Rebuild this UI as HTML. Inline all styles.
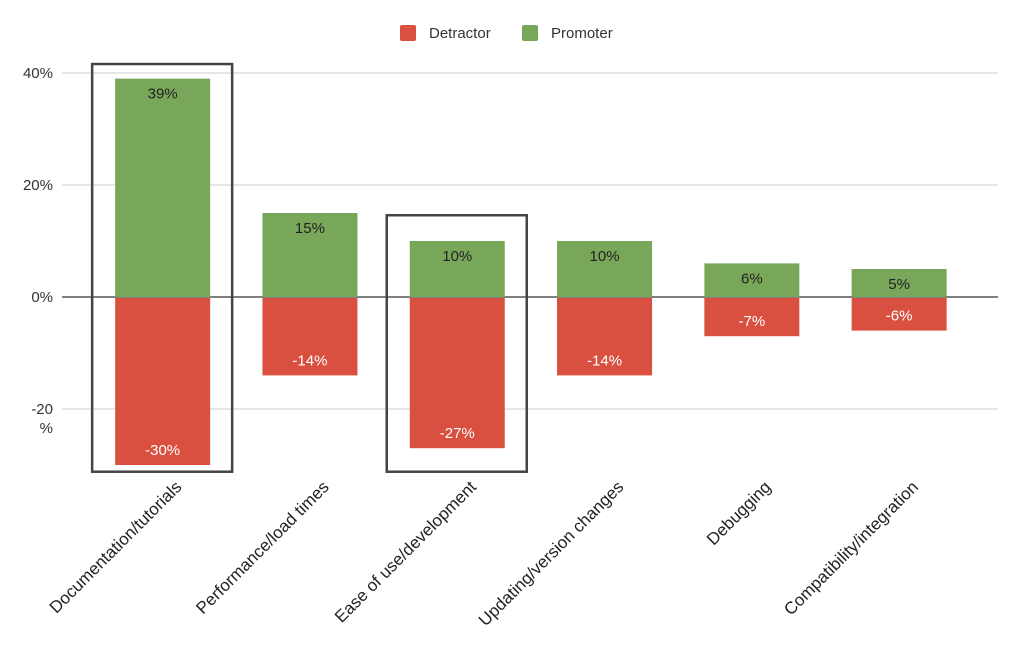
<!DOCTYPE html>
<html><head><meta charset="utf-8"><style>
body{margin:0;background:#fff;font-family:"Liberation Sans",sans-serif}
</style></head><body>
<svg id="chart" width="1024" height="642" xmlns="http://www.w3.org/2000/svg" font-family="Liberation Sans, sans-serif">
<g id="legend">
<rect x="400" y="25" width="16" height="16" rx="2" fill="#d95040"/>
<text x="429" y="38" font-size="15" fill="#333">Detractor</text>
<rect x="522" y="25" width="16" height="16" rx="2" fill="#79a75a"/>
<text x="551" y="38" font-size="15" fill="#333">Promoter</text>
</g>
<g id="grid"></g><g id="bars"></g><g id="xlabels"></g>
</svg>
<script>
const categories=["Documentation/tutorials","Performance/load times","Ease of use/development","Updating/version changes","Debugging","Compatibility/integration"];
const promoter=[39,15,10,10,6,5];
const detractor=[-30,-14,-27,-14,-7,-6];
const yTicks=[40,20,0,-20];
const yTickLabels=["40%","20%","0%","-20"];
const highlighted=[0,2];
const highlightTop=[41.6,14.6];
const highlightBottom=[-31.2,-31.2];
const NS="http://www.w3.org/2000/svg";
const y=v=>297-v*5.6;
const band=147.3, x0=89, bw=95;
const cx=i=>x0+band*i+band/2;
function mk(t,a,p){const e=document.createElementNS(NS,t);for(const k in a)e.setAttribute(k,a[k]);p.appendChild(e);return e;}
const grid=document.getElementById('grid'),bars=document.getElementById('bars'),xl=document.getElementById('xlabels');
yTicks.forEach((t,i)=>{
 const l=mk('line',{x1:62,x2:998,y1:y(t),y2:y(t),stroke:t===0?'#000':'#ccc','stroke-width':1},grid);
 
 
 const tx=mk('text',{x:53,y:y(t)+5,'text-anchor':'end','font-size':15,fill:'#333'},grid);
 tx.textContent=yTickLabels[i];
 
 
 if(t<0){const t2=mk('text',{x:53,y:y(t)+24,'text-anchor':'end','font-size':15,fill:'#333'},grid);t2.textContent='%';
 
 }
});
categories.forEach((c,i)=>{
 const x=cx(i)-bw/2;
 const g=mk('rect',{x:x,y:y(promoter[i]),width:bw,height:y(0)-y(promoter[i]),fill:'#79a75a'},bars);
 
 
 const r=mk('rect',{x:x,y:y(0)+1,width:bw,height:y(detractor[i])-y(0)-1,fill:'#d95040'},bars);
 
 
 const pl=mk('text',{x:cx(i),y:y(promoter[i])+20,'text-anchor':'middle','font-size':15,fill:'#222'},bars);
 pl.textContent=promoter[i]+'%';
 
 
 const dl=mk('text',{x:cx(i),y:y(detractor[i])-10,'text-anchor':'middle','font-size':15,fill:'#fff'},bars);
 dl.textContent=detractor[i]+'%';
 
 
 const ax=cx(i)+20, ay=488;
 const t=mk('text',{x:ax,y:ay,'text-anchor':'end','font-size':17,fill:'#222',transform:`rotate(-45 ${ax} ${ay})`},xl);
 t.textContent=c;
 
 
});
highlighted.forEach((i,k)=>{
 const top=y(highlightTop[k]), bot=y(highlightBottom[k]);
 const b=mk('rect',{x:cx(i)-bw/2-23,y:top,width:bw+45,height:bot-top,fill:'none',stroke:'#444','stroke-width':2.5},bars);
 
 
});
</script>
</body></html>
